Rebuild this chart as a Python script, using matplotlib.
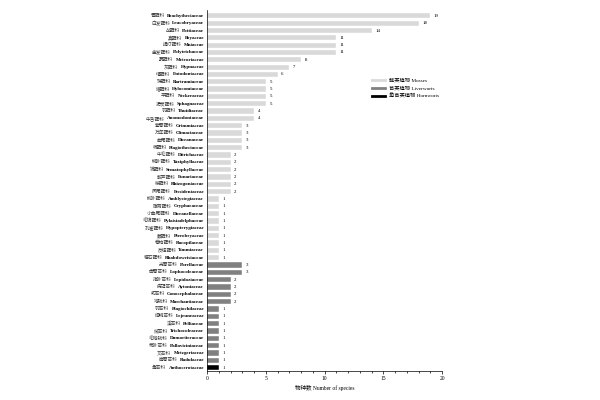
import matplotlib.pyplot as plt
import matplotlib.ticker as mticker
import matplotlib.transforms as mtransforms
from matplotlib.lines import Line2D

plt.rcParams.update({
    "font.family": ["Liberation Serif", "Noto Sans CJK SC"],
    "axes.spines.top": False,
    "axes.spines.right": False,
})

moss_names = [
    "青藓科 Brachytheciaceae", "白发藓科 Leucobryaceae", "丛藓科 Pottiaceae",
    "真藓科 Bryaceae", "提灯藓科 Mniaceae", "金发藓科 Polytrichaceae",
    "蔓藓科 Meteoriaceae", "灰藓科 Hypnaceae", "绢藓科 Entodontaceae",
    "珠藓科 Bartramiaceae", "塔藓科 Hylocomiaceae", "平藓科 Neckeraceae",
    "泥炭藓科 Sphagnaceae", "羽藓科 Thuidiaceae", "牛舌藓科 Anomodontaceae",
    "紫萼藓科 Grimmiaceae", "万年藓科 Climaciaceae", "曲尾藓科 Dicranaceae",
    "棉藓科 Plagiotheciaceae", "牛毛藓科 Ditrichaceae", "鳞叶藓科 Taxiphyllaceae",
    "锦藓科 Sematophyllaceae", "葫芦藓科 Funariaceae", "桧藓科 Rhizogoniaceae",
    "凤尾藓科 Fissidentaceae", "柳叶藓科 Amblystegiaceae", "隐蒴藓科 Cryphaeaceae",
    "小曲尾藓科 Dicranellaceae", "毛锦藓科 Pylaisiadelphaceae", "孔雀藓科 Hypopterygiaceae",
    "蕨藓科 Pterobryaceae", "卷柏藓科 Racopilaceae", "反纽藓科 Timmiaceae",
    "粗石藓科 Rhabdoweisiaceae",
]
moss_counts = [19, 18, 14, 11, 11, 11, 8, 7, 6, 5, 5, 5, 5, 4, 4, 3, 3, 3, 3,
               2, 2, 2, 2, 2, 2, 1, 1, 1, 1, 1, 1, 1, 1, 1]

liver_names = [
    "光萼苔科 Porellaceae", "齿萼苔科 Lophocoleaceae", "指叶苔科 Lepidoziaceae",
    "疣冠苔科 Aytoniaceae", "蛇苔科 Conocephalaceae", "地钱科 Marchantiaceae",
    "羽苔科 Plagiochilaceae", "细鳞苔科 Lejeuneaceae", "溪苔科 Pelliaceae",
    "绒苔科 Trichocoleaceae", "毛地钱科 Dumortieraceae", "带叶苔科 Pallaviciniaceae",
    "叉苔科 Metzgeriaceae", "扁萼苔科 Radulaceae",
]
liver_counts = [3, 3, 2, 2, 2, 2, 1, 1, 1, 1, 1, 1, 1, 1]

horn_names = ["角苔科 Anthocerotaceae"]
horn_counts = [1]

MOSS_COLOR = "#d9d9d9"
LIVER_COLOR = "#808080"
HORN_COLOR = "#000000"

names = moss_names + liver_names + horn_names
counts = moss_counts + liver_counts + horn_counts
colors = ([MOSS_COLOR] * len(moss_names) + [LIVER_COLOR] * len(liver_names)
          + [HORN_COLOR] * len(horn_names))
ypos = list(range(len(names)))

fig, ax = plt.subplots(figsize=(6, 4), dpi=100)
fig.subplots_adjust(left=0.345, right=0.737, top=0.975, bottom=0.072)

ax.barh(ypos, counts, height=0.72, color=colors, edgecolor="white", linewidth=0.3)
for y, c in zip(ypos, counts):
    ax.text(c + 0.3, y, str(c), va="center", ha="left", fontsize=3.5)

# labels: Chinese part regular, Latin part bold
ax.set_yticks(ypos)
ax.set_yticklabels([])
ax.tick_params(axis="y", length=0)
trans = mtransforms.blended_transform_factory(ax.transAxes, ax.transData)
for y, name in zip(ypos, names):
    cn, en = name.split(" ", 1)
    t_en = ax.text(-0.012, y, en, transform=trans, ha="right", va="center",
                   fontsize=3.6, fontweight="bold")
    ax.annotate(cn, xy=(0, 0.5), xycoords=t_en, xytext=(-1.5, 0),
                textcoords="offset points", ha="right", va="center",
                fontsize=3.4, color="#333333")

ax.set_ylim(len(names) - 0.5, -0.8)

ax.set_xlim(0, 20)
ax.xaxis.set_major_locator(mticker.MultipleLocator(5))
ax.xaxis.set_minor_locator(mticker.MultipleLocator(1))
ax.tick_params(axis="x", labelsize=4, length=2, width=0.5, pad=1.5)
ax.tick_params(axis="x", which="minor", length=1.5, width=0.5)
ax.set_xlabel("物种数 Number of species", fontsize=4, labelpad=3)
for s in ["left", "bottom"]:
    ax.spines[s].set_linewidth(0.5)

handles = [Line2D([0], [0], color=MOSS_COLOR, lw=2),
           Line2D([0], [0], color=LIVER_COLOR, lw=2),
           Line2D([0], [0], color=HORN_COLOR, lw=2)]
ax.legend(handles, ["藓类植物 Mosses", "苔类植物 Liverworts", "角苔类植物 Hornworts"],
          loc="upper left", bbox_to_anchor=(0.68, 0.825), fontsize=3.8,
          frameon=False, handlelength=2.5, labelspacing=0.6)

plt.savefig("out.png", dpi=100, facecolor="white")
